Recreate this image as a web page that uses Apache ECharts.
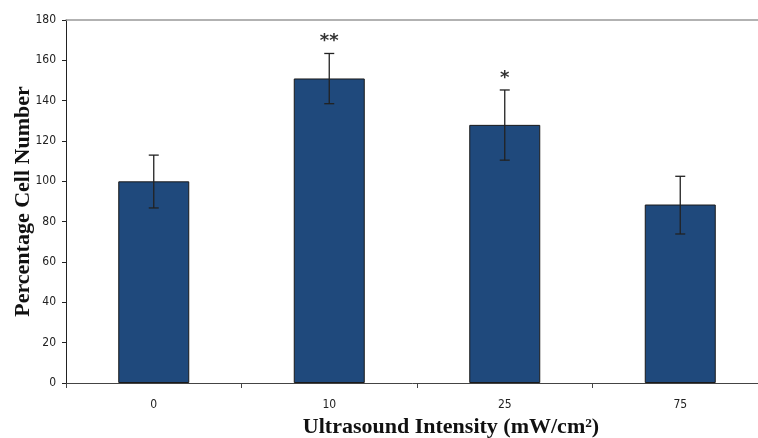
<!DOCTYPE html>
<html>
<head>
<meta charset="utf-8">
<script src="https://cdn.jsdelivr.net/npm/echarts@6/dist/echarts.min.js"></script>
<style>
  html, body { margin: 0; padding: 0; background: #fff; }
  #main { width: 758px; height: 438px; }
</style>
</head>
<body>
<div id="main"></div>
<script>
// data
const categories = ['0', '10', '25', '75']
const means = [100, 151, 128, 88.5]
const errLow = [86.8, 138.5, 110.5, 73.9]
const errHigh = [113, 163.4, 145.3, 102.5]
const marks = ['', '**', '*', '']
const yTicks = { min: 0, max: 180, interval: 20 }

const chartBox = echarts.init(document.getElementById('main'))

const option = {
  animation: false,
  grid: { left: 66, top: 20, width: 702, height: 363, outerBoundsMode: 'none', containLabel: false },
  xAxis: [
    {
      type: 'category',
      data: categories,
      name: 'Ultrasound Intensity (mW/cm²)',
      nameLocation: 'middle',
      nameGap: 33,
      nameTextStyle: {
        fontFamily: 'Liberation Serif',
        fontWeight: 'bold',
        fontSize: 22,
        color: '#111',
        padding: [0, 0, 0, 68]
      },
      axisLine: { lineStyle: { color: '#444', width: 1 } },
      axisTick: { show: true, length: 5, lineStyle: { color: '#444' } },
      axisLabel: { fontFamily: 'DejaVu Sans Condensed', fontSize: 12, color: '#222', margin: 16 }
    },
    {
      type: 'category',
      position: 'top',
      data: categories,
      axisLine: { show: true, lineStyle: { color: '#999', width: 1.5 } },
      axisTick: { show: false },
      axisLabel: { show: false }
    }
  ],
  yAxis: {
    type: 'value',
    min: yTicks.min,
    max: yTicks.max,
    interval: yTicks.interval,
    name: 'Percentage Cell Number',
    nameLocation: 'middle',
    nameGap: 32,
    nameMoveOverlap: false,
    nameTextStyle: {
      fontFamily: 'Liberation Serif',
      fontWeight: 'bold',
      fontSize: 22,
      color: '#111'
    },
    axisLine: { show: true, lineStyle: { color: '#222', width: 1 } },
    axisTick: { show: true, length: 4, lineStyle: { color: '#222' } },
    splitLine: { show: false },
    axisLabel: { fontFamily: 'DejaVu Sans Condensed', fontSize: 12, color: '#222', margin: 10 }
  },
  series: [
    {
      type: 'bar',
      data: means,
      barWidth: 71,
      itemStyle: { color: '#1F497C', borderColor: '#1a1a1a', borderWidth: 1 }
    },
    {
      type: 'custom',
      data: categories.map((c, i) => [i, errLow[i], errHigh[i]]),
      z: 10,
      renderItem: function (params, api) {
        const x = api.value(0)
        const lo = api.coord([x, api.value(1)])
        const hi = api.coord([x, api.value(2)])
        const cap = 5
        const style = { stroke: '#222', lineWidth: 1.3 }
        const children = [
          { type: 'line', shape: { x1: hi[0], y1: hi[1], x2: lo[0], y2: lo[1] }, style: style },
          { type: 'line', shape: { x1: hi[0] - cap, y1: hi[1], x2: hi[0] + cap, y2: hi[1] }, style: style },
          { type: 'line', shape: { x1: lo[0] - cap, y1: lo[1], x2: lo[0] + cap, y2: lo[1] }, style: style }
        ]
        const m = marks[params.dataIndex]
        if (m) {
          children.push({
            type: 'text',
            style: {
              text: m,
              x: hi[0],
              y: hi[1] - 3,
              align: 'center',
              verticalAlign: 'bottom',
              fontFamily: 'DejaVu Sans',
              fontWeight: 'bold',
              fontSize: 18,
              fill: '#333'
            }
          })
        }
        return { type: 'group', children: children }
      }
    }
  ]
}
chartBox.setOption(option)
</script>
</body>
</html>
